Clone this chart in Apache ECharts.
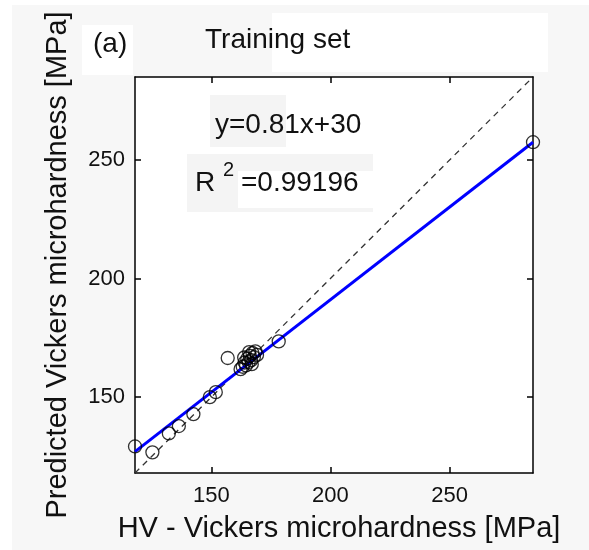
<!DOCTYPE html>
<html>
<head>
<meta charset="utf-8">
<script src="https://cdn.jsdelivr.net/npm/echarts@6/dist/echarts.min.js"></script>
<style>
  html, body { margin: 0; padding: 0; background: #fff; }
  #main { width: 589px; height: 550px; }
</style>
</head>
<body>
<div id="main"></div>
<script>
// measured HV vs network prediction (training set)
var hvMeasured = [118, 125.3, 132.2, 136.4, 142.5, 149.4, 151.9, 156.9, 162.3,
    163.2, 164.0, 164.6, 165.1, 165.7, 166.2, 166.8, 167.3, 167.9, 168.5, 169.2, 165.9, 163.8, 167.0,
    178.3, 285.0];
var hvPredicted = [129.2, 126.7, 134.7, 137.8, 142.8, 150.0, 152.1, 166.5, 161.8,
    162.8, 164.6, 163.4, 166.2, 164.8, 167.4, 165.6, 168.6, 166.9, 169.3, 167.8, 169.0, 166.7, 163.9,
    173.5, 257.5];

// fitted line y=0.81x+30 and the y=x reference, end points
var fitX = [118, 285];
var fitY = [127, 257.5];
var diagX = [118, 285];
var diagY = [118, 285];

var axisMin = 118;
var axisMax = 285;
var tickValues = [150, 200, 250];

var FONT = "Arial, 'Liberation Sans', sans-serif";
var TXT = '#111';

var chartDom = document.getElementById('main');
var myChart = echarts.init(chartDom, null, { renderer: 'canvas' });
var option;

var points = hvMeasured.map(function (x, i) { return [x, hvPredicted[i]]; });
var fitLine = fitX.map(function (x, i) { return [x, fitY[i]]; });
var diagLine = diagX.map(function (x, i) { return [x, diagY[i]]; });

function frameAxis(pos) {
    return {
        type: 'value',
        position: pos,
        min: axisMin,
        max: axisMax,
        axisLine: { show: true, onZero: false, lineStyle: { color: '#000', width: 1.5 } },
        axisTick: { show: true, inside: true, length: 6, customValues: tickValues, lineStyle: { color: '#000', width: 1.5 } },
        axisLabel: { show: false },
        splitLine: { show: false }
    };
}

option = {
    backgroundColor: '#fff',
    animation: false,
    grid: {
        left: 135, right: 56, top: 77, bottom: 77,
        outerBoundsMode: 'none',
        containLabel: false,
        show: true, backgroundColor: '#fff', borderWidth: 0
    },
    xAxis: [
        {
            type: 'value',
            position: 'bottom',
            min: axisMin,
            max: axisMax,
            name: 'HV - Vickers microhardness [MPa]',
            nameLocation: 'middle',
            nameGap: 41,
            nameTextStyle: { fontSize: 29, fontFamily: FONT, color: TXT, padding: [0, 0, 0, 10] },
            axisLine: { show: true, onZero: false, lineStyle: { color: '#000', width: 1.5 } },
            axisTick: { show: true, inside: true, length: 6, customValues: tickValues, lineStyle: { color: '#000', width: 1.5 } },
            axisLabel: { customValues: tickValues, fontSize: 22, fontFamily: FONT, color: TXT, margin: 12 },
            splitLine: { show: false }
        },
        frameAxis('top')
    ],
    yAxis: [
        {
            type: 'value',
            position: 'left',
            min: axisMin,
            max: axisMax,
            name: 'Predicted Vickers microhardness [MPa]',
            nameLocation: 'middle',
            nameRotate: 90,
            nameGap: 63,
            nameTextStyle: { fontSize: 29, fontFamily: FONT, color: TXT, padding: [0, 0, 0, 20] },
            axisLine: { show: true, onZero: false, lineStyle: { color: '#000', width: 1.5 } },
            axisTick: { show: true, inside: true, length: 6, customValues: tickValues, lineStyle: { color: '#000', width: 1.5 } },
            axisLabel: { customValues: tickValues, fontSize: 22, fontFamily: FONT, color: TXT, margin: 10 },
            splitLine: { show: false }
        },
        frameAxis('right')
    ],
    graphic: [
        // page background pieces
        { type: 'rect', z: -10, shape: { x: 12, y: 5, width: 577, height: 545 }, style: { fill: '#f7f7f7' } },
        { type: 'rect', z: -9, shape: { x: 82, y: 25, width: 51, height: 50 }, style: { fill: '#fff' } },
        { type: 'rect', z: -9, shape: { x: 272, y: 13, width: 276, height: 59 }, style: { fill: '#fff' } },
        // boxes behind the annotations inside the plot
        { type: 'rect', z: 1, shape: { x: 210, y: 95, width: 76, height: 52 }, style: { fill: '#f4f4f4' } },
        { type: 'rect', z: 1, shape: { x: 187, y: 154, width: 186, height: 58 }, style: { fill: '#f4f4f4' } },
        { type: 'rect', z: 2, shape: { x: 238, y: 171, width: 135, height: 37 }, style: { fill: '#fff' } },
        // texts
        { type: 'text', z: 100, x: 93, y: 44, style: { text: '(a)', fontSize: 28, fontFamily: FONT, fill: TXT, verticalAlign: 'middle' } },
        { type: 'text', z: 100, x: 205, y: 40, style: { text: 'Training set', fontSize: 28, fontFamily: FONT, fill: TXT, verticalAlign: 'middle' } },
        { type: 'text', z: 100, x: 215, y: 125, style: { text: 'y=0.81x+30', fontSize: 28, fontFamily: FONT, fill: TXT, verticalAlign: 'middle' } },
        { type: 'text', z: 100, x: 195, y: 183, style: { text: 'R', fontSize: 28, fontFamily: FONT, fill: TXT, verticalAlign: 'middle' } },
        { type: 'text', z: 100, x: 223, y: 170, style: { text: '2', fontSize: 20, fontFamily: FONT, fill: TXT, verticalAlign: 'middle' } },
        { type: 'text', z: 100, x: 241, y: 183, style: { text: '=0.99196', fontSize: 28, fontFamily: FONT, fill: TXT, verticalAlign: 'middle' } }
    ],
    series: [
        {
            name: 'y=x',
            type: 'line',
            data: diagLine,
            symbol: 'none',
            lineStyle: { color: '#333', width: 1.3, type: [6, 5] },
            z: 3
        },
        {
            name: 'fit',
            type: 'line',
            data: fitLine,
            symbol: 'none',
            lineStyle: { color: '#0000ff', width: 3 },
            z: 4
        },
        {
            name: 'training',
            type: 'scatter',
            data: points,
            clip: false,
            symbol: 'circle',
            symbolSize: 13,
            itemStyle: { color: 'rgba(0,0,0,0)', borderColor: '#000', borderWidth: 1.3 },
            z: 5
        }
    ]
};

option && myChart.setOption(option);
</script>
</body>
</html>
